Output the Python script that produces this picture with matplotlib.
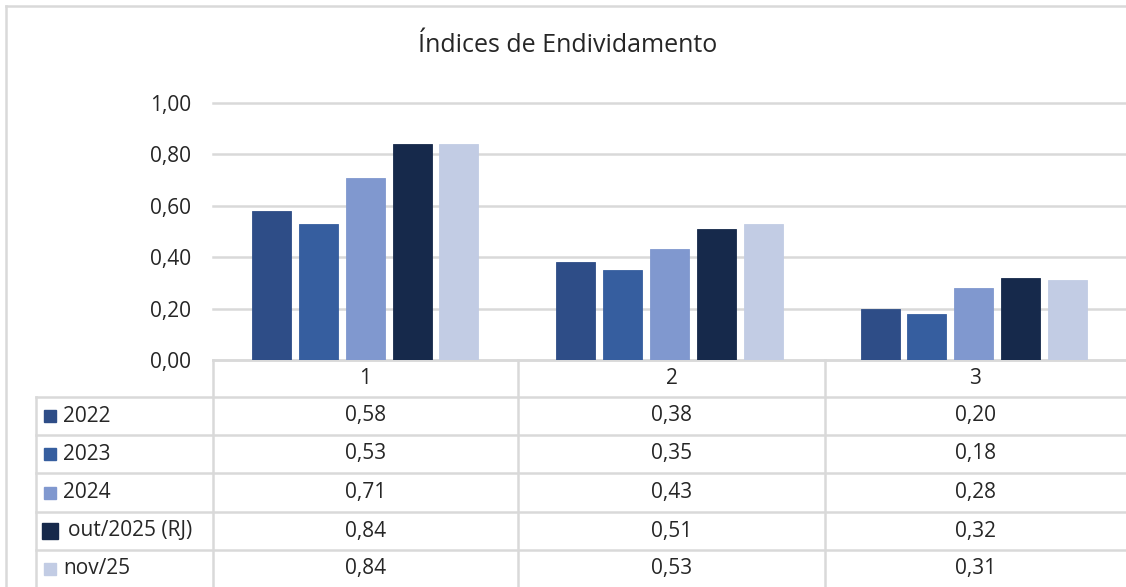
import numpy as np
import matplotlib
matplotlib.use("Agg")
import matplotlib.pyplot as plt
from matplotlib.ticker import FuncFormatter

title = "Índices de Endividamento"
categories = ["1", "2", "3"]
series_names = ["2022", "2023", "2024", "out/2025 (RJ)", "nov/25"]
v2022 = [0.58, 0.38, 0.20]
v2023 = [0.53, 0.35, 0.18]
v2024 = [0.71, 0.43, 0.28]
v_out25 = [0.84, 0.51, 0.32]
v_nov25 = [0.84, 0.53, 0.31]
series_values = [v2022, v2023, v2024, v_out25, v_nov25]
colors = ["#2E4D87", "#365E9F", "#8098CF", "#16294B", "#C2CCE4"]
yticks = [0.0, 0.2, 0.4, 0.6, 0.8, 1.0]

W, H = 1126, 587
GRID = "#D9D9D9"
TXT = "#262626"
FS = 15
plt.rcParams["font.family"] = ["Open Sans", "DejaVu Sans"]


def br(v, nd=2):
    return f"{v:.{nd}f}".replace(".", ",")


fig = plt.figure(figsize=(W / 100, H / 100), dpi=100)

# pixel-coordinate layer for frame and data table
bg = fig.add_axes([0, 0, 1, 1], zorder=0)
bg.set_xlim(0, W); bg.set_ylim(H, 0); bg.axis("off")

# chart frame (top/left border)
bg.plot([6, W], [6, 6], color=GRID, lw=1.8)
bg.plot([6, 6], [6, H], color=GRID, lw=1.8)

# plot area in pixels
x0, x1 = 213, W
y_top, y_bot = 103, 360
ax = fig.add_axes([x0 / W, 1 - y_bot / H, (x1 - x0) / W, (y_bot - y_top) / H], zorder=2)
ax.patch.set_alpha(0)

n = len(series_names)
x = np.arange(len(categories))
step, width = 0.154, 0.128
for i, (name, vals, c) in enumerate(zip(series_names, series_values, colors)):
    ax.bar(x + (i - (n - 1) / 2) * step, vals, width, color=c, edgecolor=c,
           linewidth=0.6, zorder=3, label=name)

ax.set_xlim(-0.5, len(categories) - 0.5)
ax.set_ylim(0, 1.0)
ax.set_yticks(yticks)
ax.yaxis.set_major_formatter(FuncFormatter(lambda v, p: br(v)))
ax.set_xticks([])
for t in yticks:
    ax.axhline(t, color=GRID, lw=1.8, zorder=1, clip_on=False)
for s in ax.spines.values():
    s.set_visible(False)
ax.tick_params(axis="y", length=0, pad=16, labelsize=FS, labelcolor=TXT)

fig.text(568 / W, 1 - 46 / H, title, ha="center", va="center", fontsize=18, color=TXT)

# data table
col_edges = [213, 518, 825, W]
row_edges = [360, 397, 435, 473, 512, 550, 587]
leg_x = 36
bg.plot([x0, W], [row_edges[0]] * 2, color=GRID, lw=1.8)
for yy in row_edges[1:-1]:
    bg.plot([leg_x, W], [yy, yy], color=GRID, lw=1.8)
bg.plot([leg_x, leg_x], [row_edges[1], H], color=GRID, lw=1.8)
for xx in col_edges[:-1]:
    bg.plot([xx, xx], [row_edges[0], H], color=GRID, lw=1.8)

centers = [(col_edges[j] + col_edges[j + 1]) / 2 for j in range(len(categories))]
for j, cat in enumerate(categories):
    bg.text(centers[j], (row_edges[0] + row_edges[1]) / 2, cat, ha="center",
            va="center", fontsize=FS, color=TXT)
for i, (name, vals, c) in enumerate(zip(series_names, series_values, colors)):
    yc = (row_edges[i + 1] + row_edges[i + 2]) / 2
    big = name.startswith("out")
    bg.plot([50], [yc], marker="s", ms=11 if big else 9, color=c, ls="none")
    bg.text(68 if big else 63, yc, name, ha="left", va="center", fontsize=FS, color=TXT)
    for j, v in enumerate(vals):
        bg.text(centers[j], yc, br(v), ha="center", va="center", fontsize=FS, color=TXT)

fig.savefig("out.png", dpi=100)
